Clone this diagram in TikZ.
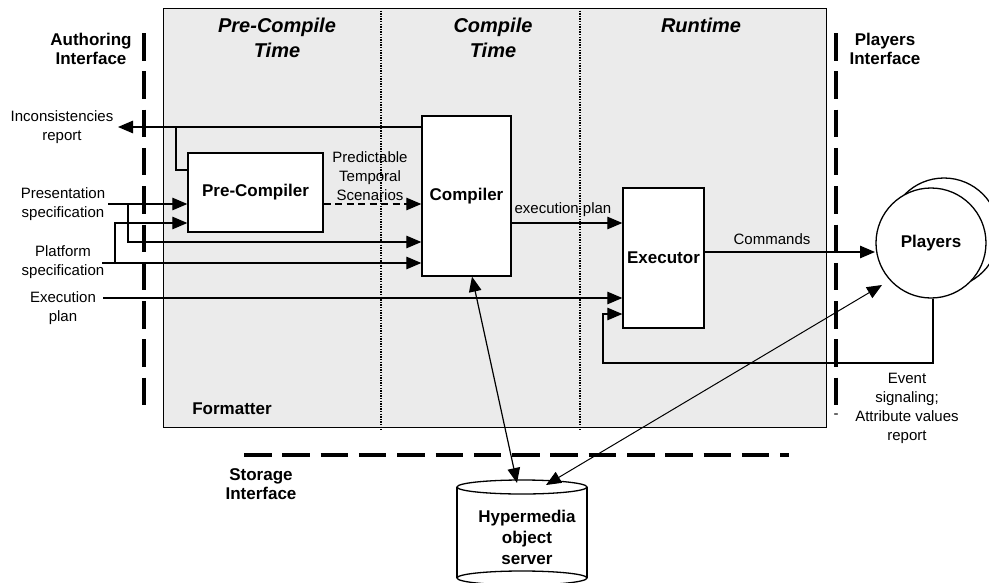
\documentclass[tikz,border=0pt]{standalone}
\usepackage{fontspec}
\setmainfont{Liberation Sans}
\usetikzlibrary{arrows.meta}
\definecolor{fmtgray}{RGB}{235,235,235}
\begin{document}
\begin{tikzpicture}[x=1pt,y=-1pt,
  box/.style={draw, line width=1.3pt, fill=white, inner sep=0pt, font=\fontsize{17}{19}\selectfont\bfseries},
  arr/.style={line width=1.2pt, -{Triangle[length=15pt,width=12.5pt]}},
  darr/.style={line width=1.2pt, {Triangle[length=15pt,width=12.5pt]}-{Triangle[length=15pt,width=12.5pt]}},
  iface/.style={line width=3.4pt, dash pattern=on 27.5pt off 10.8pt},
  sepline/.style={line width=1.3pt, dash pattern=on 1.3pt off 1.3pt},
  lbl/.style={font=\fontsize{15}{19}\selectfont, align=center, inner sep=0pt},
  blbl/.style={font=\fontsize{17}{19}\selectfont\bfseries, align=center, inner sep=0pt},
  hdr/.style={font=\fontsize{20}{25}\selectfont\bfseries\itshape, align=center, inner sep=0pt},
]
\useasboundingbox (0,0) rectangle (989,582);

% Formatter frame
\node[draw, line width=1.4pt, fill=fmtgray, minimum width=663pt, minimum height=419pt,
      anchor=north west, inner sep=0pt] (fmt) at (163,8) {};
\draw[sepline] (381,8) -- (381,430);
\draw[sepline] (580,8) -- (580,430);

% headers
\node[hdr] (hPre) at (277,38) {Pre-Compile\\Time};
\node[hdr] (hCmp) at (493,38) {Compile\\Time};
\node[hdr] (hRun) at (701,25) {Runtime};
\node[blbl] (lFmt) at (232,409) {Formatter};

% boxes
\node[box, minimum width=135pt, minimum height=79pt] (prc) at (255.5,192.5) {Pre-Compiler};
\node[box, minimum width=89pt, minimum height=160pt] (cmp) at (466.5,196) {Compiler};
\node[box, minimum width=81pt, minimum height=140pt] (exe) at (663.5,258) {Executor};

% players
\node[draw, circle, line width=1.3pt, fill=white, minimum size=110pt, inner sep=0pt] (plb) at (944,233) {};
\node[draw, circle, line width=1.3pt, fill=white, minimum size=110pt, inner sep=0pt,
      font=\fontsize{17}{19}\selectfont\bfseries] (pl) at (931,243) {Players};

% cylinder
\fill[white] (457,487) rectangle (587,578);
\draw[line width=1.3pt] (457,487) -- (457,578);
\draw[line width=1.3pt] (587,487) -- (587,578);
\draw[line width=1.3pt, fill=white] (522,487) ellipse (65pt and 7pt);
\draw[line width=1.3pt] (522,578) ellipse (65pt and 7pt);
\node[blbl, font=\fontsize{17}{21}\selectfont\bfseries] (hms) at (527,537) {Hypermedia\\object\\server};

% interfaces
\draw[iface] (144,33) -- (144,405);
\draw[iface] (836,33) -- (836,405);
\draw[iface] (244,455) -- (789,455);
\node[blbl] (lAuth) at (91,49) {Authoring\\Interface};
\node[blbl] (lPlI) at (885,49) {Players\\Interface};
\node[blbl] (lSto) at (261,484) {Storage\\Interface};

% labels
\node[lbl] (lInc) at (62,127.5) {Inconsistencies\\report};
\node[lbl] (lPres) at (63,204.5) {Presentation\\specification};
\node[lbl] (lPlat) at (63,262) {Platform\\specification};
\node[lbl] (lExec) at (63,308.5) {Execution\\plan};
\node[lbl] (lPTS) at (370,176.5) {Predictable\\Temporal\\Scenarios};
\node[lbl] (lEP) at (563,210) {execution plan};
\node[lbl] (lCm) at (772,239) {Commands};
\node[lbl] (lEv) at (907,408) {Event\\signaling;\\Attribute values\\report};
\node[lbl] (lDash) at (836,416) {-};

% coordinates
\coordinate (incT) at (118,127);
\coordinate (incB) at (176,127);
\coordinate (incP) at (176,170);
\coordinate (presS) at (108,204);
\coordinate (bPres) at (128,204);
\coordinate (yC1) at (0,242);
\coordinate (platS) at (102,263);
\coordinate (bPlat) at (115,263);
\coordinate (yPr2) at (0,223);
\coordinate (execS) at (103,298);
\coordinate (pts) at (0,204);
\coordinate (ep) at (0,223);
\coordinate (cm) at (0,252);
\coordinate (cmE) at (875,252);
\coordinate (fb1) at (603,363);
\coordinate (fb2) at (0,314);
\coordinate (dbL) at (517,483);
\coordinate (dbR) at (546,485);
\coordinate (plT) at (882,285);

% connectors
\draw[arr] (cmp.west |- incT) -- (incT);
\draw[line width=1.2pt] (prc.west |- incP) -- (incP) -- (incB);
\draw[arr] (presS) -- (presS -| prc.west);
\draw[arr] (bPres) |- (cmp.west |- yC1);
\draw[arr] (platS) -- (platS -| cmp.west);
\draw[arr] (bPlat) |- (prc.west |- yPr2);
\draw[arr] (execS) -- (execS -| exe.west);
\draw[arr, dash pattern=on 7pt off 4.5pt] (prc.east |- pts) -- (cmp.west |- pts);
\draw[arr] (cmp.east |- ep) -- (exe.west |- ep);
\draw[arr] (exe.east |- cm) -- (cmE);
\draw[arr] ([xshift=2pt]pl.south) |- (fb1) |- (exe.west |- fb2);
\draw[darr] ([xshift=5.5pt]cmp.south) -- (dbL);
\draw[darr, line width=1pt] (plT) -- (dbR);
\end{tikzpicture}
\end{document}
